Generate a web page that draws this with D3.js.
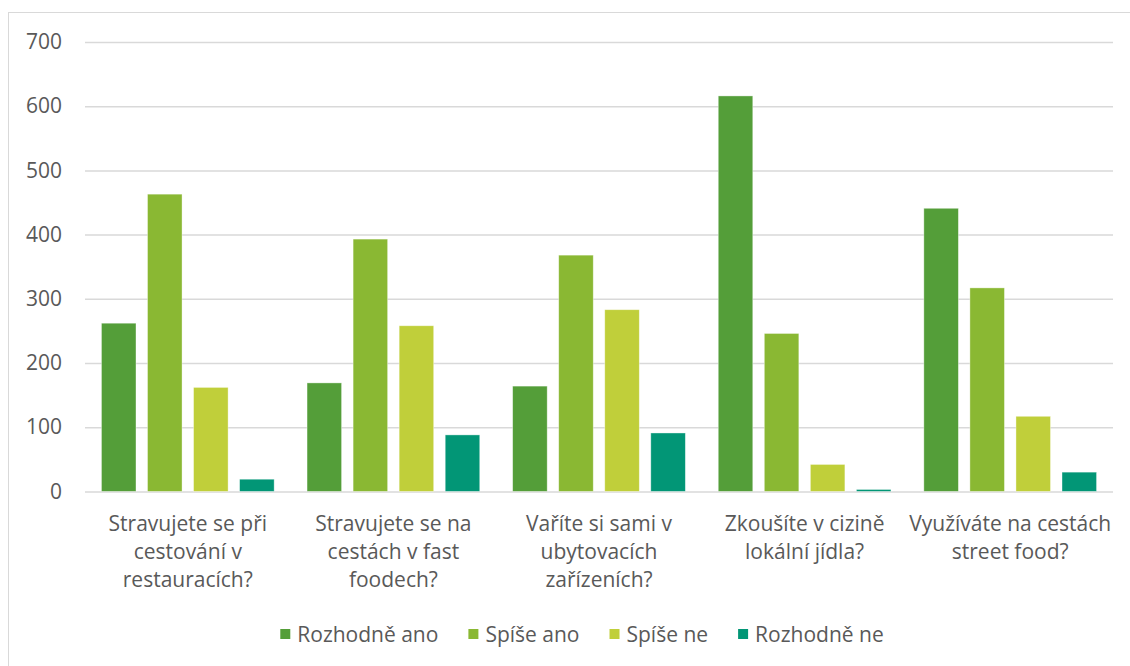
<!DOCTYPE html>
<html>
<head>
<meta charset="utf-8">
<script src="https://cdn.jsdelivr.net/npm/d3@7"></script>
<style>
  html, body { margin: 0; padding: 0; background: #fff; }
  svg { display: block; font-family: "Open Sans", sans-serif; }
</style>
</head>
<body>
<svg id="chart" width="1130" height="666"></svg>
<script>
const categories = [
  ["Stravujete se při", "cestování v", "restauracích?"],
  ["Stravujete se na", "cestách v fast", "foodech?"],
  ["Vaříte si sami v", "ubytovacích", "zařízeních?"],
  ["Zkoušíte v cizině", "lokální jídla?"],
  ["Využíváte na cestách", "street food?"]
];
const seriesNames = ["Rozhodně ano", "Spíše ano", "Spíše ne", "Rozhodně ne"];
const rozhodneAno = [262, 169, 164, 616, 441];
const spiseAno    = [463, 393, 368, 246, 317];
const spiseNe     = [162, 258, 283, 42, 117];
const rozhodneNe  = [19, 88, 91, 3, 30];
const seriesValues = [rozhodneAno, spiseAno, spiseNe, rozhodneNe];
const colors = ["#549E39", "#8AB833", "#C0CF3A", "#029676"];
const yTicks = [0, 100, 200, 300, 400, 500, 600, 700];

const svg = d3.select("#chart");
const W = 1130, H = 666;
const plot = { left: 85, right: 1113, top: 42, bottom: 491.4 };

// outer border (top & left visible)
svg.append("rect")
  .attr("x", 8.5).attr("y", 12.5)
  .attr("width", W + 20).attr("height", H + 20)
  .attr("fill", "none").attr("stroke", "#d9d9d9").attr("stroke-width", 1);

const y = d3.scaleLinear().domain([0, 700]).range([plot.bottom, plot.top]);
const x0 = d3.scaleBand().domain(d3.range(categories.length))
  .range([plot.left, plot.right]).paddingInner(0.16).paddingOuter(0.08);
const x1 = d3.scaleBand().domain(d3.range(seriesNames.length))
  .range([0, x0.bandwidth()]).paddingInner(0.25);

// gridlines
const yAxis = d3.axisLeft(y).tickValues(yTicks)
  .tickSize(-(plot.right - plot.left)).tickPadding(23).tickFormat(d3.format("d"));
const gAxis = svg.append("g").attr("transform", `translate(${plot.left},0)`).call(yAxis);
gAxis.select(".domain").remove();
gAxis.selectAll(".tick line").attr("stroke", "#d9d9d9").attr("stroke-width", 1.5);
gAxis.selectAll(".tick text")
  .attr("fill", "#595959").attr("font-size", "21px")
  .attr("font-family", "Open Sans, sans-serif");

// bars
const groups = svg.append("g").selectAll("g")
  .data(categories.map((c, i) => i)).join("g")
  .attr("transform", i => `translate(${x0(i)},0)`);
groups.selectAll("rect")
  .data(i => seriesValues.map((s, k) => ({ k, v: s[i] })))
  .join("rect")
  .attr("x", d => x1(d.k))
  .attr("width", x1.bandwidth())
  .attr("y", d => y(d.v))
  .attr("height", d => y(0) - y(d.v))
  .attr("fill", d => colors[d.k])
  .attr("stroke", "#ffffff").attr("stroke-opacity", 0.5).attr("stroke-width", 0.75);

// category labels
const lab = svg.append("g");
categories.forEach((lines, i) => {
  const cx = x0(i) + x0.bandwidth() / 2;
  const t = lab.append("text")
    .attr("text-anchor", "middle").attr("fill", "#595959").attr("font-size", "21px");
  lines.forEach((ln, j) => {
    t.append("tspan").attr("x", cx).attr("y", 531 + j * 28).text(ln);
  });
});

// legend
const leg = svg.append("g");
const sq = 10, gapSq = 7, gapItem = 30;
const items = seriesNames.map((n, k) => {
  const t = leg.append("text").attr("font-size", "21px").attr("fill", "#595959").text(n);
  return { t, w: t.node().getComputedTextLength(), k };
});
const total = d3.sum(items, d => sq + gapSq + d.w) + gapItem * (items.length - 1);
let lx = 582 - total / 2;
items.forEach(d => {
  leg.append("rect").attr("x", lx).attr("y", 629).attr("width", sq).attr("height", sq)
    .attr("fill", colors[d.k]);
  d.t.attr("x", lx + sq + gapSq).attr("y", 641.5);
  lx += sq + gapSq + d.w + gapItem;
});
</script>
</body>
</html>
